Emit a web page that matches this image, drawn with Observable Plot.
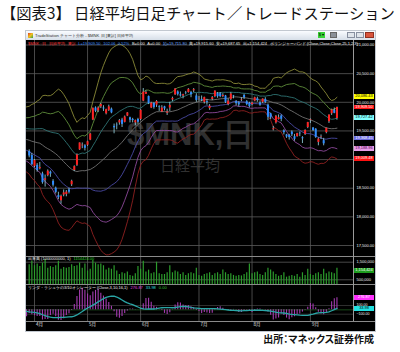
<!DOCTYPE html>
<html><head><meta charset="utf-8">
<script src="https://cdn.jsdelivr.net/npm/d3@7"></script>
<script src="https://cdn.jsdelivr.net/npm/@observablehq/plot@0.6"></script>
<style>
html,body{margin:0;padding:0}
body{width:400px;height:352px;background:#fff;position:relative;overflow:hidden;font-family:"Noto Sans CJK JP","Noto Sans",sans-serif}
.a{position:absolute}
#title{left:1px;top:2px;font-size:15.3px;line-height:20px;white-space:nowrap;color:#111}
#cap{right:26px;top:333px;font-size:10px;line-height:12px;font-weight:700;font-feature-settings:"palt";white-space:nowrap;color:#111}
#win{left:25px;top:30px;width:351px;height:302px;background:#000;border:1px solid #c2c8d0;box-sizing:border-box}
#tbar{left:26px;top:31px;width:349px;height:9px;background:linear-gradient(#fafcff,#d6dee8)}
#ttext{left:35px;top:31.5px;font-size:4.2px;line-height:8px;color:#333;white-space:nowrap}
.tiny{font-family:"Liberation Sans",Arial,sans-serif;white-space:nowrap}
#legend{left:28px;top:40.5px;font-size:4px;line-height:6px;display:flex;gap:2.6px;white-space:nowrap}
#wm1{left:127px;top:117px;font-family:"Liberation Sans",Arial,sans-serif;font-weight:700;font-size:31px;line-height:36px;color:#303030;white-space:nowrap}
#wm2{left:160px;top:156px;font-size:15px;line-height:18px;color:#303030;white-space:nowrap}
.box{position:absolute;left:354px;width:20px;height:4.8px;font-family:"Liberation Sans",Arial,sans-serif;font-size:3.9px;line-height:4.8px;text-align:center;white-space:nowrap}
.plot{position:absolute;left:26px}
.plot svg{display:block;overflow:visible}
.pl{position:absolute;font-size:4px;line-height:6px;white-space:nowrap}
</style></head><body>
<div id="title" class="a">【図表3】 日経平均日足チャート／トレードステーション</div>
<div id="win" class="a"></div>
<div id="tbar" class="a"></div>
<div class="a" style="left:27.5px;top:32.5px;width:5px;height:5px;background:linear-gradient(135deg,#e04020,#f0c020 50%,#30a040)"></div>
<div id="ttext" class="a tiny">TradeStation チャート分析 - $MNK 日 [東証] 日経平均</div>
<div class="a tiny" style="left:318px;top:32px;width:7px;height:6px;background:#36d236;font-size:4px;line-height:6px;text-align:center;color:#000">$ ▾</div>
<div class="a" style="left:330px;top:32px;width:7px;height:6px;background:#8a9098;border:0.5px solid #666;box-sizing:border-box"></div>
<div class="a" style="left:347px;top:32px;width:8px;height:6px;background:#dfe4ea;border:0.5px solid #8890a0;box-sizing:border-box"></div>
<div class="a" style="left:356px;top:32px;width:8px;height:6px;background:#dfe4ea;border:0.5px solid #8890a0;box-sizing:border-box"></div>
<div class="a" style="left:365px;top:32px;width:9px;height:6px;background:#d9543c;border:0.5px solid #903020;box-sizing:border-box"></div>
<div id="wm1" class="a">$MNK,日</div>
<div id="wm2" class="a">日経平均</div>
<div id="pricePane" class="plot" style="top:40px"></div>
<div id="volPane" class="plot" style="top:256px"></div>
<div id="oscPane" class="plot" style="top:284px"></div>
<div class="a" style="left:26px;top:255.5px;width:349px;height:0.8px;background:#8a8a8a"></div>
<div class="a" style="left:26px;top:283.5px;width:349px;height:0.8px;background:#8a8a8a"></div>
<div class="a" style="left:26px;top:321px;width:349px;height:0.8px;background:#8a8a8a"></div>
<div class="a" style="left:352.8px;top:40px;width:0.8px;height:281px;background:#9a9a9a"></div>
<div id="legend" class="a tiny"></div>
<div id="labels"></div>
<div id="cap" class="a">出所：マネックス証券作成</div>
<script>
// ---- data (Nikkei 225 daily) ----
const dates = [
"2017-02-20","2017-02-21","2017-02-22","2017-02-23","2017-02-24","2017-02-27","2017-02-28",
"2017-03-01","2017-03-02","2017-03-03","2017-03-06","2017-03-07","2017-03-08","2017-03-09","2017-03-10","2017-03-13","2017-03-14","2017-03-15","2017-03-16","2017-03-17","2017-03-21","2017-03-22","2017-03-23","2017-03-24","2017-03-27","2017-03-28","2017-03-29","2017-03-30","2017-03-31",
"2017-04-03","2017-04-04","2017-04-05","2017-04-06","2017-04-07","2017-04-10","2017-04-11","2017-04-12","2017-04-13","2017-04-14","2017-04-17","2017-04-18","2017-04-19","2017-04-20","2017-04-21","2017-04-24","2017-04-25","2017-04-26","2017-04-27","2017-04-28",
"2017-05-01","2017-05-02","2017-05-08","2017-05-09","2017-05-10","2017-05-11","2017-05-12","2017-05-15","2017-05-16","2017-05-17","2017-05-18","2017-05-19","2017-05-22","2017-05-23","2017-05-24","2017-05-25","2017-05-26","2017-05-29","2017-05-30","2017-05-31",
"2017-06-01","2017-06-02","2017-06-05","2017-06-06","2017-06-07","2017-06-08","2017-06-09","2017-06-12","2017-06-13","2017-06-14","2017-06-15","2017-06-16","2017-06-19","2017-06-20","2017-06-21","2017-06-22","2017-06-23","2017-06-26","2017-06-27","2017-06-28","2017-06-29","2017-06-30",
"2017-07-03","2017-07-04","2017-07-05","2017-07-06","2017-07-07","2017-07-10","2017-07-11","2017-07-12","2017-07-13","2017-07-14","2017-07-18","2017-07-19","2017-07-20","2017-07-21","2017-07-24","2017-07-25","2017-07-26","2017-07-27","2017-07-28","2017-07-31",
"2017-08-01","2017-08-02","2017-08-03","2017-08-04","2017-08-07","2017-08-08","2017-08-09","2017-08-10","2017-08-14","2017-08-15","2017-08-16","2017-08-17","2017-08-18","2017-08-21","2017-08-22","2017-08-23","2017-08-24","2017-08-25","2017-08-28","2017-08-29","2017-08-30","2017-08-31",
"2017-09-01","2017-09-04","2017-09-05","2017-09-06","2017-09-07","2017-09-08","2017-09-11","2017-09-12","2017-09-13","2017-09-14","2017-09-15"];
const closes = [
19251,19381,19379,19371,19283,19107,19119,
19393,19564,19469,19379,19344,19254,19318,19605,19633,19610,19577,19590,19522,19455,19041,19085,19263,18986,19203,19218,19063,18909,
18983,18810,18861,18597,18665,18798,18748,18552,18427,18336,18355,18419,18432,18430,18621,18876,19080,19290,19252,19197,
19311,19446,19896,19844,19900,19962,19884,19870,19920,19815,19554,19591,19679,19614,19743,19814,19687,19683,19678,19651,
19860,20178,20171,19980,19985,19910,20013,19908,19899,19884,19832,19944,20068,20231,20139,20111,20133,20153,20225,20130,20220,20033,
20056,20032,20082,19994,19929,20081,20195,20098,20099,20119,19999,20021,20145,20100,19976,19955,20050,20080,19960,19925,
19986,20080,20030,19952,20056,19997,19739,19730,19538,19754,19730,19703,19470,19394,19384,19434,19354,19453,19450,19363,19507,19646,
19692,19508,19386,19358,19397,19275,19546,19777,19866,19808,19909.5];
// OHLC + volume from 2017-03-30 on (the visible bars)
const opens = [
19140,19070,
18880,18900,18840,18750,18640,18720,18780,18620,18500,18370,18280,18380,18390,18470,18560,18810,18900,19170,19240,19240,
19250,19340,19690,19900,19850,19920,19900,19800,19860,19880,19580,19600,19640,19690,19650,19760,19730,19700,19640,19700,
19700,20020,20140,20100,19900,19980,19950,19920,19830,19920,19810,19900,20040,20130,20180,20130,20110,20160,20170,20170,20200,20110,
20050,20050,20000,20010,19890,20050,20100,20150,20150,20100,20110,19960,20050,20110,20010,19990,20040,20120,20010,19980,
19960,20020,20060,19990,20000,20050,19950,19800,19520,19640,19700,19760,19500,19430,19420,19480,19400,19400,19460,19380,19440,19560,
19680,19550,19530,19300,19390,19330,19470,19660,19800,19860,19715.8];
const highs = [
19170,19110,
19000,18930,18950,18780,18730,18820,18800,18650,18520,18430,18380,18470,18460,18500,18640,18890,19100,19290,19290,19260,
19320,19460,19900,19920,19920,19980,19940,19880,19950,19900,19620,19640,19700,19720,19760,19820,19740,19720,19690,19720,
19870,20240,20200,20110,20000,19990,20030,19940,19940,19930,19880,20000,20090,20240,20200,20180,20140,20190,20240,20190,20240,20150,
20100,20110,20090,20050,19960,20100,20200,20170,20170,20150,20120,20060,20170,20120,20030,20010,20080,20140,20030,20000,
20000,20090,20090,20010,20060,20080,19970,19810,19580,19770,19780,19780,19520,19440,19440,19500,19440,19460,19480,19400,19520,19650,
19710,19560,19540,19380,19430,19370,19550,19780,19880,19900,19915.6];
const lows = [
19030,18900,
18860,18780,18820,18570,18520,18700,18690,18520,18400,18300,18220,18350,18350,18400,18530,18790,18880,19160,19190,19150,
19230,19330,19680,19820,19820,19890,19840,19780,19840,19800,19450,19520,19600,19560,19640,19750,19640,19640,19590,19620,
19680,20010,20140,19960,19890,19880,19910,19840,19820,19850,19770,19840,20010,20120,20110,20090,20060,20130,20160,20080,20170,20000,
20020,20010,19970,19950,19860,20030,20080,20070,20080,20080,19980,19940,20030,20060,19940,19920,20010,20050,19940,19900,
19940,20010,20000,19930,19980,19980,19680,19700,19500,19620,19690,19660,19430,19370,19340,19400,19320,19390,19400,19280,19420,19540,
19630,19490,19370,19240,19350,19240,19450,19630,19770,19800,19687.65];
const volumes = [
1350000,1550000,
1300000,1400000,1250000,1450000,1650000,1150000,1250000,1200000,1300000,1550000,1100000,1200000,1150000,1200000,1350000,1250000,1300000,1450000,1150000,1400000,
1000000,1100000,1600000,1450000,1350000,1400000,1300000,1050000,1150000,1100000,1300000,1000000,800000,900000,850000,950000,750000,700000,850000,1250000,
1100000,1550000,950000,1050000,850000,900000,1500000,850000,800000,800000,900000,1300000,900000,1000000,950000,800000,900000,750000,850000,900000,850000,1150000,
750000,700000,800000,850000,900000,750000,850000,900000,800000,1050000,900000,800000,850000,750000,700000,750000,720000,800000,900000,1400000,
850000,900000,950000,800000,750000,900000,1150000,1050000,950000,800000,700000,750000,900000,650000,700000,750000,700000,800000,650000,900000,750000,1100000,
800000,750000,850000,900000,800000,1100000,850000,950000,900000,850000,1154424];
const monthStarts = ["2017-04-03","2017-05-01","2017-06-01","2017-07-03","2017-08-01","2017-09-01"];
const monthLabels = ["4月","5月","6月","7月","8月","9月"];
const priceTicks = [17500,18000,18500,19000,19500,20000,20500,21000];
const priceTickLabels = [17500,18000,18500,19500,20000,20500,21000]; // 19,000 is hidden behind a value box
const volumeTicks = [500000,1500000];
const oscTicks = [-100,100];
const bandLabelValues = [20086.43,19909.50,19727.42,19368.45,19188.96,19009.48];
const volumeLabelValue = 1154424;
const oscLabelValues = [276.87,33.98];

// ---- derived tables ----
const i0 = dates.indexOf("2017-04-03");
const firstVis = dates.indexOf("2017-03-30");
const bars = opens.map((o,j)=>{const k=firstVis+j;return {i:k-i0,o,h:highs[j],l:lows[j],c:closes[k],v:volumes[j]};});
const upBars = bars.filter(d=>d.c>=d.o), downBars = bars.filter(d=>d.c<d.o);
const monthIdx = monthStarts.map(s=>dates.indexOf(s)-i0);
const monthLabelOf = new Map(monthIdx.map((d,j)=>[d,monthLabels[j]]));

const bandRows=[];
for(let k=24;k<closes.length;k++){const w=closes.slice(k-24,k+1);const m=d3.mean(w);const s=Math.sqrt(d3.mean(w,v=>(v-m)**2));if(k-i0>=-5)bandRows.push({i:k-i0,m,s});}
const sma=(arr,k,n)=>d3.mean(arr.slice(k-n+1,k+1));
const fast=closes.map((c,k)=>k>=9?sma(closes,k,3)-sma(closes,k,10):null);
const oscRows=[];
for(let k=24;k<closes.length;k++){if(k-i0>=-5)oscRows.push({i:k-i0,fast:fast[k],slow:d3.mean(fast.slice(k-15,k+1))});}

// ---- layout ----
const W=349, MR=22, pxApr3=8, pxDay=2.653;
const xDomain=[-pxApr3/pxDay,(W-MR-pxApr3)/pxDay];
const gridC="#5a5a5a";
const st={background:"transparent",color:"#eee",fontFamily:"'Liberation Sans',Arial,sans-serif",overflow:"visible"};
const bandDefs=[
 {m:3,color:"#8a8a38"},{m:2,color:"#5e8c3a"},{m:1,color:"#2f7474"},{m:0,color:"#707070"},
 {m:-1,color:"#4a4aa4"},{m:-2,color:"#8c489a"},{m:-3,color:"#8e2020"}];

const pricePlot=Plot.plot({
 width:W,height:216,marginLeft:0,marginRight:MR,marginTop:0,marginBottom:0,style:st,
 x:{domain:xDomain,axis:null,label:null},
 y:{domain:[17500,21000],range:[205,4.5],axis:null,label:null},
 marks:[
  Plot.gridY(priceTicks,{stroke:gridC,strokeOpacity:1,strokeWidth:0.8}),
  Plot.gridX(monthIdx,{stroke:gridC,strokeOpacity:1,strokeWidth:0.8}),
  Plot.axisY(priceTickLabels,{anchor:"right",label:null,tickSize:0,tickPadding:3,tickFormat:d3.format(",.2f"),fontSize:4,fill:"#f0f0f0"}),
  ...bandDefs.map(b=>Plot.line(bandRows,{x:"i",y:d=>d.m+b.m*d.s,stroke:b.color,strokeWidth:0.9,clip:true})),
  Plot.ruleX(bars,{x:"i",y1:"l",y2:"h",stroke:"#9adbe8",strokeWidth:0.8,clip:true}),
  Plot.ruleX(upBars,{x:"i",y1:"o",y2:"c",stroke:"#ff2222",strokeWidth:2,clip:true}),
  Plot.ruleX(downBars,{x:"i",y1:"o",y2:"c",stroke:"#2f8cff",strokeWidth:2,clip:true})
 ]});
document.getElementById("pricePane").append(pricePlot);

const volPlot=Plot.plot({
 width:W,height:28,marginLeft:0,marginRight:MR,marginTop:0,marginBottom:0,style:st,
 x:{domain:xDomain,axis:null,label:null},
 y:{domain:[500000,1500000],range:[23.3,5.7],axis:null,label:null},
 marks:[
  Plot.gridY(volumeTicks,{stroke:gridC,strokeOpacity:1,strokeWidth:0.8}),
  Plot.gridX(monthIdx,{stroke:gridC,strokeOpacity:1,strokeWidth:0.8}),
  Plot.axisY(volumeTicks,{anchor:"right",label:null,tickSize:0,tickPadding:3,tickFormat:d3.format(","),fontSize:4,fill:"#f0f0f0"}),
  Plot.ruleX(bars,{x:"i",y1:0,y2:"v",stroke:"#2c9c2c",strokeWidth:1.2,clip:true})
 ]});
document.getElementById("volPane").append(volPlot);

const oscPlot=Plot.plot({
 width:W,height:47,marginLeft:0,marginRight:MR,marginTop:0,marginBottom:10,style:st,
 x:{domain:xDomain,axis:null,label:null},
 y:{domain:[-100,100],range:[29.7,21.0],axis:null,label:null},
 marks:[
  Plot.gridY(oscTicks,{stroke:"#3a3a3a",strokeOpacity:1,strokeWidth:0.8}),
  Plot.gridX(monthIdx,{stroke:gridC,strokeOpacity:1,strokeWidth:0.8}),
  Plot.axisY(oscTicks,{anchor:"right",label:null,tickSize:0,tickPadding:3,dy:-0.7,tickFormat:d3.format(".2f"),fontSize:3.6,fill:"#f0f0f0"}),
  Plot.axisX(monthIdx,{anchor:"bottom",label:null,tickSize:0,tickPadding:1,tickFormat:d=>monthLabelOf.get(d),textAnchor:"start",dx:1.5,fontSize:4.5,fill:"#e0e0e0",fontFamily:"'Noto Sans CJK JP',sans-serif"}),
  Plot.ruleY([0],{stroke:"#1e5a1e",strokeWidth:0.8}),
  Plot.ruleX(oscRows,{x:"i",y1:0,y2:"fast",stroke:"#a43cb0",strokeWidth:1.1,clip:true}),
  Plot.line(oscRows,{x:"i",y:"slow",stroke:"#2aa6a6",strokeWidth:1.3,clip:true})
 ]});
document.getElementById("oscPane").append(oscPlot);

// ---- legends ----
const legend=document.getElementById("legend");
[["$MNK : 日","#ff3a3a"],["日経平均","#ff3a3a"],["東証","#ff3a3a"],["L=19,909.50","#3d8fff"],["102.06","#3d8fff"],["0.52%","#3d8fff"],
 ["B=0.00","#eee"],["A=0.00","#eee"],["始=19,715.80","#6aa8ff"],["高=19,915.60","#eee"],["安=19,687.65","#eee"],["出=1,154,424","#eee"],
 ["ボリンジャーバンド (Close,Close,Close,25,1,2,3)","#eee"]].forEach(([t,c])=>{const s=document.createElement("span");s.textContent=t;s.style.color=c;legend.append(s);});

function addText(parent,left,top,parts){const d=document.createElement("div");d.className="pl tiny";d.style.left=left+"px";d.style.top=top+"px";
 parts.forEach(([t,c],j)=>{const s=document.createElement("span");s.textContent=t;s.style.color=c;if(j)s.style.marginLeft="3px";d.append(s);});parent.append(d);}
const labels=document.getElementById("labels");
addText(labels,28,255.5,[["出来高 (1000000000, 1)","#eee"],["1154424.00","#2fcf2f"]]);
addText(labels,28,284.5,[["リンダ・ラシュケの3/10オシレーター (Close,3,10,16,1)","#eee"],["276.87","#e048e0"],["33.98","#30e0e0"],["0.00","#30c030"]]);

function addBox(top,text,bg,fg){const d=document.createElement("div");d.className="box";d.style.top=(top-2.4)+"px";d.style.background=bg;d.style.color=fg;d.textContent=text;labels.append(d);}
const py=pricePlot.scale("y"), vy=volPlot.scale("y"), oy=oscPlot.scale("y");
const bandBoxStyle=[["#ffff00","#000"],["#ff1010","#fff"],["#80ffff","#000"],["#6a6ae0","#fff"],["#e89ce8","#500050"],["#ff1010","#fff"]];
bandLabelValues.forEach((v,j)=>addBox(40+py.apply(v),d3.format(",.2f")(v),bandBoxStyle[j][0],bandBoxStyle[j][1]));
addBox(256+vy.apply(volumeLabelValue)+2.6,d3.format(",")(volumeLabelValue),"#1c9c1c","#fff");
addBox(284+oy.apply(oscLabelValues[0]),d3.format(".2f")(oscLabelValues[0]),"#ff30ff","#fff");
addBox(284+oy.apply(oscLabelValues[1])+1,d3.format(".2f")(oscLabelValues[1]),"#20e0e0","#000");
</script>
</body></html>
